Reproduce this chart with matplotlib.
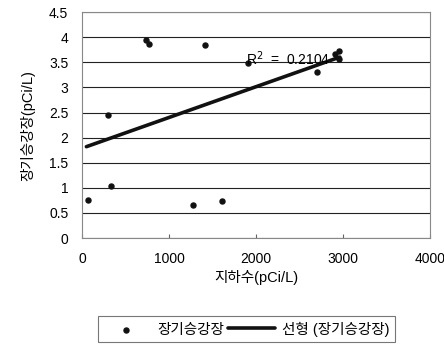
import numpy as np
import matplotlib
matplotlib.use('Agg')
import matplotlib.pyplot as plt

plt.rcParams['font.family'] = ['Liberation Sans', 'Noto Sans CJK KR', 'DejaVu Sans']

# 지하수 vs 장기승강장 (pCi/L)
x_gw = [69, 300, 333, 735, 775, 1270, 1410, 1610, 1910, 2700, 2910, 2955, 2950]
y_st = [0.75, 2.45, 1.03, 3.95, 3.86, 0.65, 3.85, 0.74, 3.48, 3.31, 3.67, 3.73, 3.56]
trend_slope = 0.000612
trend_intercept = 1.79
r2_text = "R$^2$  =  0.2104"

fig = plt.figure(figsize=(4.44, 3.47), dpi=100)
ax = fig.add_axes([0.185, 0.314, 0.783, 0.651])

ax.set_xlim(0, 4000)
ax.set_ylim(0, 4.5)
ax.set_xticks([0, 1000, 2000, 3000, 4000])
ax.set_yticks(np.arange(0, 4.51, 0.5))
ax.set_yticklabels(['0', '0.5', '1', '1.5', '2', '2.5', '3', '3.5', '4', '4.5'])
ax.yaxis.grid(True, color='#222222', linewidth=0.8)
ax.set_axisbelow(True)
for s in ax.spines.values():
    s.set_color('#888888')
    s.set_linewidth(0.8)
ax.tick_params(axis='x', direction='in', length=3, pad=10, labelsize=10, color='#666666')
ax.tick_params(axis='y', length=0, pad=10, labelsize=10)

ax.scatter(x_gw, y_st, s=13, color='#111111', zorder=3, label='장기승강장')
xt = np.array([min(x_gw) - 20, max(x_gw) + 10])
ax.plot(xt, trend_intercept + trend_slope * xt, color='#111111', linewidth=2.6,
        solid_capstyle='round', zorder=4, label='선형 (장기승강장)')
ax.text(1880, 3.58, r2_text, fontsize=10, va='center', ha='left', zorder=5)

ax.set_xlabel('지하수(pCi/L)', fontsize=10.5, labelpad=3)
ax.set_ylabel('장기승강장(pCi/L)', fontsize=10.5, labelpad=10)

leg = fig.legend(loc='center', bbox_to_anchor=(0.555, 0.052), ncol=2, fontsize=10.5,
                 frameon=True, fancybox=False, edgecolor='#555555', handlelength=3.2,
                 columnspacing=0.3, handletextpad=0.5, borderpad=0.35)
leg.get_frame().set_linewidth(0.8)

fig.savefig('out.png', dpi=100)
